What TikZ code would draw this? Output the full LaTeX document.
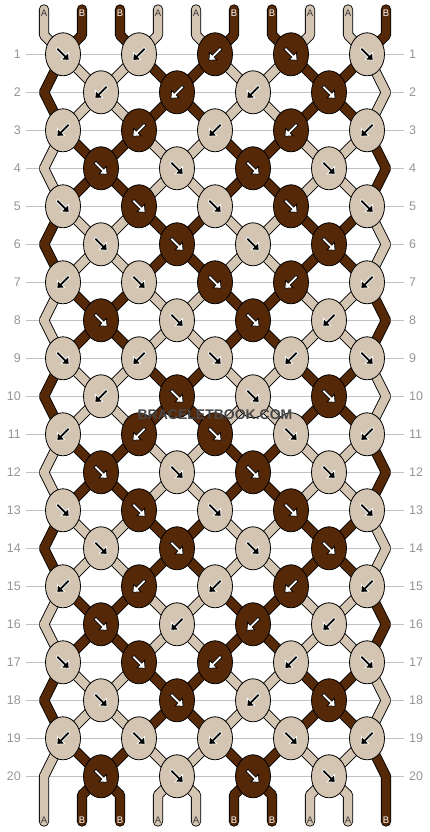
\documentclass[tikz,border=0pt]{standalone}
\usepackage{fontspec}
\setmainfont{Liberation Sans}
\usetikzlibrary{shapes.geometric}
\definecolor{strA}{RGB}{211,197,178}
\definecolor{strB}{RGB}{85,40,8}
\definecolor{inkA}{RGB}{55,55,55}
\definecolor{inkB}{RGB}{255,255,255}
\definecolor{rowgray}{RGB}{150,150,150}
\definecolor{linegray}{RGB}{192,192,192}
\tikzset{
  declare function={
    wrp(\s,\r)=mod((isodd(\s) ? \s+\r : \s-\r)+39,20);
    spos(\s,\r)=(wrp(\s,\r)<10) ? wrp(\s,\r)+1 : 20-wrp(\s,\r);
    slotx(\r,\p)=isodd(\r) ? 63+76*(ceil(\p/2)-1) : (\p==1 ? 44 : (\p==10 ? 386 : 101+76*(floor(\p/2)-1)));
  },
  thread/.style={line width=0.9pt, double distance=8.5pt, line cap=round, line join=bevel},
  knot/.style={ellipse, draw=black, line width=0.8pt, minimum width=35pt, minimum height=43pt, inner sep=0pt},
  pics/knotarrow/.style={code={
    \filldraw[line width=0.7pt] (-8.5,-1.4) -- (2.5,-1.4) -- (2.5,-5.2) -- (8.5,0) -- (2.5,5.2) -- (2.5,1.4) -- (-8.5,1.4) -- cycle;}},
  lf/.style={knot, fill=strA, path picture={\pic[rotate=-45, draw=white, fill=black] at (path picture bounding box.center) {knotarrow};}},
  lb/.style={knot, fill=strA, path picture={\pic[rotate=-135, draw=white, fill=black] at (path picture bounding box.center) {knotarrow};}},
  df/.style={knot, fill=strB, path picture={\pic[rotate=-45, draw=black, fill=white] at (path picture bounding box.center) {knotarrow};}},
  db/.style={knot, fill=strB, path picture={\pic[rotate=-135, draw=black, fill=white] at (path picture bounding box.center) {knotarrow};}},
  rownum/.style={font=\fontsize{12.5}{15}\selectfont, text=rowgray, inner xsep=5pt, inner ysep=0pt},
  tag/.style={font=\fontsize{9.5}{11}\selectfont, inner sep=0pt},
}
\begin{document}
\begin{tikzpicture}[x=1pt,y=-1pt]
\path[use as bounding box, fill=white] (0,0) rectangle (430,832);

\foreach \r in {1,...,20}{
  \node[rownum, anchor=east] (l-\r) at (26,16.3+38*\r) {\r};
  \node[rownum, anchor=west] (r-\r) at (404,16.3+38*\r) {\r};
  \draw[linegray, line width=1pt] (l-\r) -- (r-\r);
}

\foreach \s in {1,...,10}{
  \coordinate (t-\s-top) at (6+38*\s,9.5);
  \coordinate (t-\s-0) at (6+38*\s,35);
  \foreach \r in {1,...,20}{
    \pgfmathtruncatemacro\pos{spos(\s,\r)}
    \pgfmathsetmacro\sx{slotx(\r,\pos)}
    \coordinate (t-\s-\r) at (\sx,16.3+38*\r);
  }
  \coordinate (t-\s-21) at (6+38*\s,795);
  \coordinate (t-\s-end) at (6+38*\s,821.5);
}

\foreach \s/\lab in {1/A,2/B,3/B,4/A,5/A,6/B,7/B,8/A,9/A,10/B}{
  \draw[thread, double=str\lab] (t-\s-top) -- (t-\s-0)
    \foreach \r in {1,...,21}{ -- (t-\s-\r)} -- (t-\s-end);
}

\foreach \r/\kn in {1/{lf,lb,db,df,lf}, 2/{lb,db,lb,df}, 3/{lb,db,lb,db,lb}, 4/{df,lf,df,lf},
    5/{lf,df,lf,df,lf}, 6/{lf,df,lf,df}, 7/{lb,lf,df,db,lb}, 8/{df,lf,df,lb},
    9/{lf,lb,lf,lb,lf}, 10/{lb,df,lf,df}, 11/{lb,db,df,lf,lb}, 12/{df,lf,df,lf},
    13/{lf,df,lf,df,lf}, 14/{lf,df,lf,df}, 15/{lb,db,lb,db,lb}, 16/{df,lb,db,lb},
    17/{lf,df,db,lb,lf}, 18/{lf,df,lb,df}, 19/{lb,lf,lb,lf,lb}, 20/{df,lf,df,lf}}{
  \foreach \kc [count=\j] in \kn{
    \pgfmathsetmacro\kx{isodd(\r) ? 63+76*(\j-1) : 101+76*(\j-1)}
    \node[\kc] (k-\r-\j) at (\kx,16.3+38*\r) {};
  }
}

\foreach \s/\lab in {1/A,2/B,3/B,4/A,5/A,6/B,7/B,8/A,9/A,10/B}{
  \node[tag, text=ink\lab] (top-\s) at (6+38*\s,13) {\lab};
  \node[tag, text=ink\lab] (bot-\s) at (6+38*\s,820.5) {\lab};
}

\node[font=\bfseries\fontsize{14}{16}\selectfont, text=black!72] (mark) at (215,415) {BRACELETBOOK.COM};
\end{tikzpicture}
\end{document}
